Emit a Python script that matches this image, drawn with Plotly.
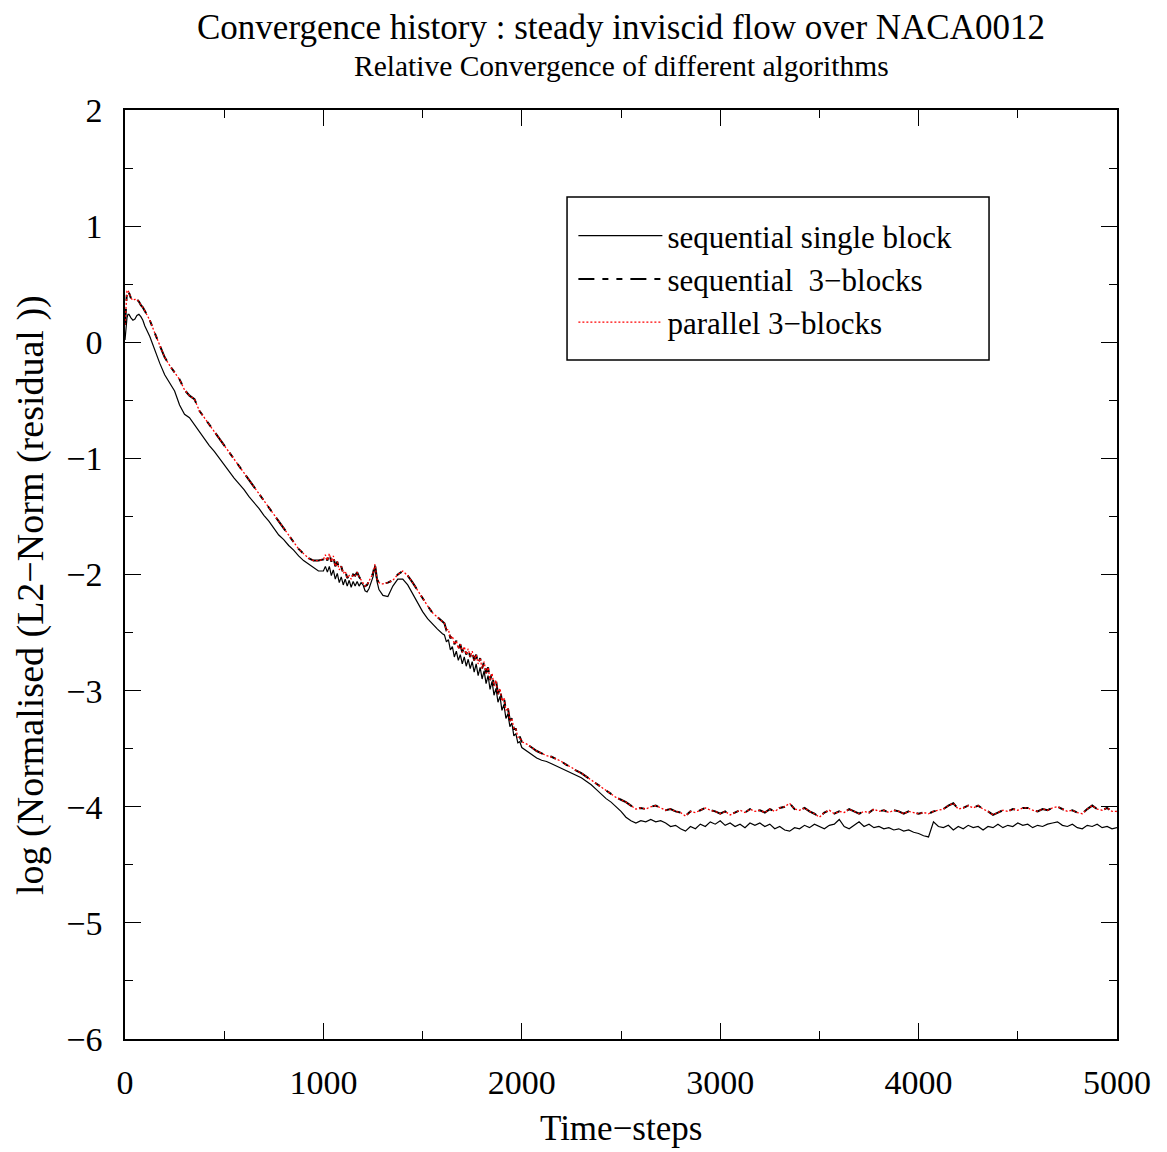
import plotly.graph_objects as go

# ---- time-step sampling positions ----
steps = ([0, 5, 10, 15, 20, 30, 40, 50, 60, 70, 80, 90, 100]
         + list(range(125, 1001, 25))
         + list(range(1010, 1301, 10))
         + list(range(1325, 1601, 25))
         + list(range(1610, 2001, 10))
         + list(range(2025, 2501, 25))
         + list(range(2525, 5001, 25)))

# ---- sequential single block (solid) ----
single_block = (
    [0.02, 0.14, 0.21, 0.24, 0.24, 0.21, 0.19, 0.20, 0.23, 0.24, 0.22, 0.19, 0.14]
    + [0.05, -0.07, -0.18, -0.28, -0.35, -0.42, -0.54, -0.62, -0.65, -0.71,
       -0.78, -0.84, -0.89, -0.94, -1.00, -1.05, -1.11, -1.17, -1.22, -1.27,
       -1.33, -1.38, -1.43, -1.49, -1.54, -1.60, -1.66, -1.70, -1.75, -1.79,
       -1.84, -1.88, -1.91, -1.94, -1.97, -1.97]
    + [-1.93, -1.98, -1.93, -2.01, -1.96, -2.04, -1.99, -2.07, -2.02, -2.09,
       -2.04, -2.10, -2.05, -2.11, -2.06, -2.10, -2.06, -2.10, -2.07, -2.09,
       -2.14, -2.15, -2.12, -2.07, -2.02, -1.92, -2.06, -2.13, -2.16, -2.18]
    + [-2.19, -2.10, -2.04, -2.04, -2.09, -2.17, -2.25, -2.32, -2.38, -2.43, -2.47, -2.51]
    + [-2.52, -2.58, -2.56, -2.65, -2.62, -2.71, -2.66, -2.74, -2.69, -2.77,
       -2.71, -2.79, -2.73, -2.81, -2.75, -2.84, -2.77, -2.87, -2.80, -2.90,
       -2.83, -2.94, -2.87, -2.99, -2.92, -3.04, -2.98, -3.10, -3.05, -3.17,
       -3.12, -3.24, -3.20, -3.31, -3.28, -3.39, -3.37, -3.45, -3.44, -3.49]
    + [-3.52, -3.55, -3.58, -3.60, -3.61, -3.63, -3.65, -3.67, -3.69, -3.71,
       -3.73, -3.75, -3.78, -3.81, -3.85, -3.89, -3.93, -3.96, -4.00, -4.04]
    + [-4.09, -4.12, -4.14, -4.12, -4.13, -4.11, -4.13, -4.12, -4.14, -4.17,
       -4.16, -4.19, -4.21, -4.17, -4.19, -4.15, -4.17, -4.13, -4.15, -4.12,
       -4.16, -4.14, -4.17, -4.15, -4.18, -4.14, -4.16, -4.14, -4.17, -4.15,
       -4.19, -4.17, -4.20, -4.21, -4.18, -4.19, -4.16, -4.18, -4.15, -4.17,
       -4.19, -4.16, -4.15, -4.11, -4.17, -4.19, -4.16, -4.13, -4.17, -4.15,
       -4.18, -4.17, -4.19, -4.18, -4.20, -4.19, -4.21, -4.20, -4.22, -4.23,
       -4.25, -4.26, -4.13, -4.17, -4.18, -4.16, -4.20, -4.17, -4.19, -4.16,
       -4.18, -4.17, -4.20, -4.17, -4.18, -4.15, -4.18, -4.16, -4.17, -4.14,
       -4.16, -4.15, -4.18, -4.16, -4.17, -4.15, -4.14, -4.13, -4.16, -4.17,
       -4.15, -4.18, -4.19, -4.16, -4.17, -4.15, -4.18, -4.17, -4.19, -4.18]
)

# ---- sequential 3-blocks (dashed) ----
seq_3blocks = (
    [0.15, 0.36, 0.44, 0.45, 0.42, 0.38, 0.36, 0.37, 0.37, 0.35, 0.32, 0.30, 0.27]
    + [0.19, 0.08, -0.03, -0.13, -0.20, -0.26, -0.32, -0.41, -0.46, -0.49,
       -0.59, -0.65, -0.71, -0.76, -0.82, -0.88, -0.95, -1.01, -1.07, -1.13,
       -1.19, -1.25, -1.30, -1.36, -1.42, -1.49, -1.55, -1.61, -1.67, -1.73,
       -1.78, -1.82, -1.86, -1.88, -1.88, -1.87]
    + [-1.83, -1.88, -1.82, -1.89, -1.84, -1.93, -1.89, -1.96, -1.93, -1.99,
       -1.97, -2.03, -2.01, -2.04, -2.00, -2.01, -1.98, -2.02, -2.05, -2.08,
       -2.10, -2.09, -2.06, -2.03, -1.99, -1.91, -2.04, -2.07, -2.08, -2.08]
    + [-2.07, -2.05, -2.00, -1.97, -2.01, -2.07, -2.14, -2.20, -2.27, -2.33, -2.37, -2.41]
    + [-2.42, -2.48, -2.47, -2.55, -2.53, -2.60, -2.57, -2.64, -2.60, -2.67,
       -2.62, -2.69, -2.64, -2.71, -2.66, -2.74, -2.69, -2.77, -2.72, -2.81,
       -2.75, -2.85, -2.80, -2.91, -2.85, -2.96, -2.91, -3.03, -2.98, -3.09,
       -3.06, -3.17, -3.15, -3.26, -3.24, -3.33, -3.33, -3.40, -3.40, -3.44]
    + [-3.46, -3.49, -3.52, -3.54, -3.56, -3.57, -3.59, -3.61, -3.64, -3.66,
       -3.69, -3.71, -3.74, -3.77, -3.80, -3.83, -3.86, -3.89, -3.92, -3.94]
    + [-3.96, -3.99, -4.02, -4.01, -4.02, -4.00, -3.99, -4.01, -4.03, -4.02,
       -4.04, -4.05, -4.08, -4.04, -4.05, -4.03, -4.01, -4.03, -4.04, -4.06,
       -4.04, -4.07, -4.05, -4.03, -4.05, -4.02, -4.04, -4.03, -4.05, -4.02,
       -4.04, -4.01, -4.00, -3.97, -4.02, -4.03, -4.01, -4.04, -4.06, -4.09,
       -4.05, -4.03, -4.06, -4.04, -4.05, -4.02, -4.04, -4.06, -4.04, -4.05,
       -4.02, -4.04, -4.03, -4.05, -4.03, -4.04, -4.06, -4.04, -4.05, -4.06,
       -4.05, -4.06, -4.04, -4.03, -4.02, -3.99, -3.97, -4.02, -4.01, -3.99,
       -4.01, -3.99, -4.02, -4.04, -4.07, -4.05, -4.03, -4.04, -4.02, -4.03,
       -4.01, -4.01, -4.03, -4.04, -4.02, -4.03, -4.01, -4.00, -4.02, -4.04,
       -4.03, -4.05, -4.06, -4.02, -3.99, -4.02, -4.03, -4.01, -4.04, -4.04]
)

# ---- parallel 3-blocks (red dotted) : coincides with the sequential 3-block run ----
par_3blocks = list(seq_3blocks)

names = ["sequential single block", "sequential  3\u2212blocks", "parallel 3\u2212blocks"]
x_ticks = [0, 1000, 2000, 3000, 4000, 5000]
y_ticks = [-6, -5, -4, -3, -2, -1, 0, 1, 2]

FONT = "Liberation Serif"

fig = go.Figure()
fig.add_trace(go.Scatter(x=steps, y=single_block, mode="lines", name=names[0],
                         line=dict(color="black", width=1.2)))
fig.add_trace(go.Scatter(x=steps, y=seq_3blocks, mode="lines", name=names[1],
                         line=dict(color="black", width=2, dash="16px,8px,6px,8px,6px,8px")))
fig.add_trace(go.Scatter(x=steps, y=par_3blocks, mode="lines", name=names[2],
                         line=dict(color="red", width=1.3, dash="2px,2px")))

axis_common = dict(
    showgrid=False, zeroline=False, showline=True, linecolor="black", linewidth=1.5,
    mirror="allticks", ticks="inside", ticklen=16, tickwidth=1.3, tickcolor="black",
    tickfont=dict(family=FONT, size=34, color="black"),
    minor=dict(ticks="inside", ticklen=8, tickwidth=1.2, tickcolor="black"),
)

fig.update_layout(
    width=1167, height=1152,
    margin=dict(l=125, r=50, t=110, b=113),
    paper_bgcolor="white", plot_bgcolor="white",
    font=dict(family=FONT, color="black"),
    showlegend=True,
    legend=dict(x=0.452, y=0.8935, xanchor="left", yanchor="top",
                bgcolor="rgba(0,0,0,0)", borderwidth=0,
                font=dict(family=FONT, size=31, color="black"),
                itemwidth=84),
    xaxis=dict(range=[0, 5000], tickvals=x_ticks, ticklabelstandoff=12,
               **{k: v for k, v in axis_common.items()}),
    yaxis=dict(range=[-6, 2], tickvals=y_ticks, ticklabelstandoff=14,
               **{k: v for k, v in axis_common.items()}),
    shapes=[dict(type="rect", xref="paper", yref="paper",
                 x0=0.4456, x1=0.871, y0=0.7309, y1=0.9064,
                 line=dict(color="black", width=1.5))],
    annotations=[
        dict(text="Convergence history : steady inviscid flow over NACA0012",
             xref="paper", yref="paper", x=0.5, y=1.0 + (110 - 28) / 929,
             xanchor="center", yanchor="middle", showarrow=False,
             font=dict(family=FONT, size=35, color="black")),
        dict(text="Relative Convergence of different algorithms",
             xref="paper", yref="paper", x=0.5, y=1.0 + (110 - 66) / 929,
             xanchor="center", yanchor="middle", showarrow=False,
             font=dict(family=FONT, size=29.5, color="black")),
        dict(text="Time\u2212steps", xref="paper", yref="paper",
             x=0.5, y=-(1128 - 1039) / 929, xanchor="center", yanchor="middle",
             showarrow=False, font=dict(family=FONT, size=35, color="black")),
        dict(text="log (Normalised (L2\u2212Norm (residual ))", xref="paper", yref="paper",
             x=-(125 - 30) / 992, y=(1039 - 595) / 929, xanchor="center", yanchor="middle",
             textangle=-90, showarrow=False, font=dict(family=FONT, size=38, color="black")),
    ],
)

fig.write_html("out.html")
